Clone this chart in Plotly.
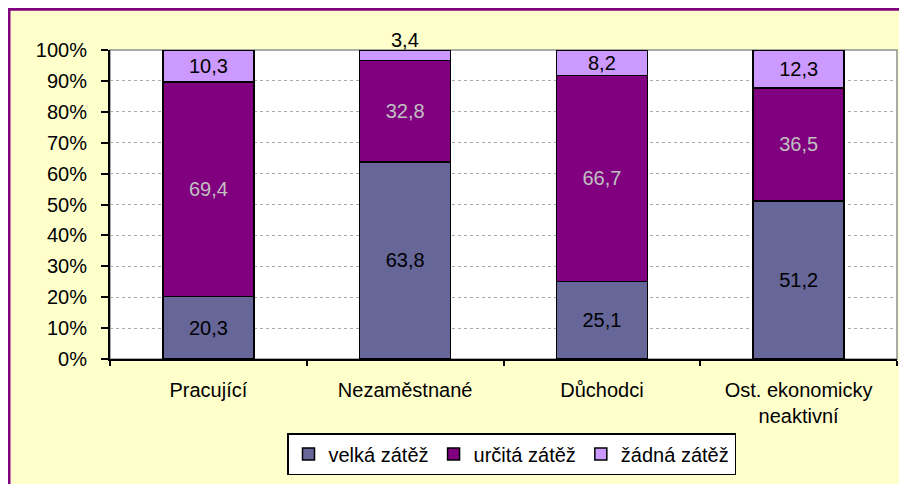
import plotly.graph_objects as go

categories = ["Pracující", "Nezaměstnané", "Důchodci", "Ost. ekonomicky<br>neaktivní"]
velka = [20.3, 63.8, 25.1, 51.2]
urcita = [69.4, 32.8, 66.7, 36.5]
zadna = [10.3, 3.4, 8.2, 12.3]
series_names = ["velká zátěž", "určitá zátěž", "žádná zátěž"]
y_ticks = [0, 10, 20, 30, 40, 50, 60, 70, 80, 90, 100]
y_ticktext = [f"{v}%" for v in y_ticks]

FONT = "Liberation Sans, Arial, sans-serif"
FS = 20


def fmt(v):
    return f"{v:.1f}".replace(".", ",")


x = list(range(len(categories)))
outside_thresh = 5

fig = go.Figure()
specs = [
    (velka, "#666699", "#000000"),
    (urcita, "#800080", "#C0C0C0"),
    (zadna, "#CC99FF", "#000000"),
]
for name, (vals, color, tcolor) in zip(series_names, specs):
    texts = [fmt(v) if v >= outside_thresh else "" for v in vals]
    fig.add_trace(go.Bar(
        x=x, y=vals, name=name,
        marker=dict(color=color, line=dict(color="#000000", width=1.5)),
        text=texts, textposition="inside", insidetextanchor="middle",
        textangle=0, constraintext="none",
        textfont=dict(family=FONT, size=FS, color=tcolor),
        hoverinfo="skip",
    ))

annotations = []
for i in range(len(categories)):
    if zadna[i] < outside_thresh:
        annotations.append(dict(
            x=x[i], y=velka[i] + urcita[i] + zadna[i], xref="x", yref="y",
            text=fmt(zadna[i]), showarrow=False, yanchor="bottom", yshift=-3,
            font=dict(family=FONT, size=FS, color="#000000"),
        ))

# the page body adds an 8px offset; figure is sized to fit the window
OFF = 8
W, H = 907 - OFF, 484 - OFF
L, T = 110 - OFF, 50 - OFF
R = W - (897 - OFF)
B = H - (360 - OFF)
pw, ph = W - L - R, H - T - B


def px_x(p):
    return (p - OFF - L) / pw


def px_y(p):
    return (H - B - (p - OFF)) / ph


shapes = [
    dict(type="rect", xref="paper", yref="paper", layer="below",
         x0=px_x(9), x1=px_x(925), y0=px_y(505), y1=px_y(9),
         fillcolor="#FFFFCC", line=dict(color="#800080", width=3)),
    dict(type="rect", xref="paper", yref="paper", layer="below",
         x0=0, x1=1, y0=0, y1=1,
         fillcolor="#FFFFFF", line=dict(color="#909090", width=1.5)),
]

fig.update_layout(
    width=W, height=H,
    margin=dict(l=L, r=R, t=T, b=B),
    paper_bgcolor="#FFFFCC", plot_bgcolor="#FFFFFF",
    barmode="stack", bargap=0.5375,
    font=dict(family=FONT, size=FS, color="#000000"),
    shapes=shapes, annotations=annotations,
    showlegend=True,
    legend=dict(orientation="h", x=px_x(511.5), xanchor="center",
                y=px_y(433), yanchor="top",
                bgcolor="#FFFFFF", bordercolor="#000000", borderwidth=1.5,
                font=dict(family=FONT, size=FS, color="#000000"),
                traceorder="normal", itemclick=False),
    xaxis=dict(
        range=[-0.5, len(categories) - 0.5],
        tickmode="array", tickvals=x, ticktext=categories,
        ticks="", showline=True, linecolor="#000000", linewidth=2,
        showgrid=False, zeroline=False, ticklabelstandoff=12,
        tickfont=dict(family=FONT, size=FS, color="#000000"),
        minor=dict(tickmode="array",
                   tickvals=[i - 0.5 for i in range(len(categories) + 1)],
                   ticks="outside", ticklen=5, tickwidth=1.5,
                   tickcolor="#000000", showgrid=False),
        fixedrange=True,
    ),
    yaxis=dict(
        range=[0, 100], tickmode="array", tickvals=y_ticks, ticktext=y_ticktext,
        ticks="outside", ticklen=7, tickwidth=1.5, tickcolor="#000000",
        showline=True, linecolor="#000000", linewidth=2,
        showgrid=True, gridcolor="#A8A8A8", griddash="dot", gridwidth=1,
        zeroline=False, ticklabelstandoff=10,
        tickfont=dict(family=FONT, size=FS, color="#000000"),
        fixedrange=True,
    ),
)

fig.write_html("out.html")
